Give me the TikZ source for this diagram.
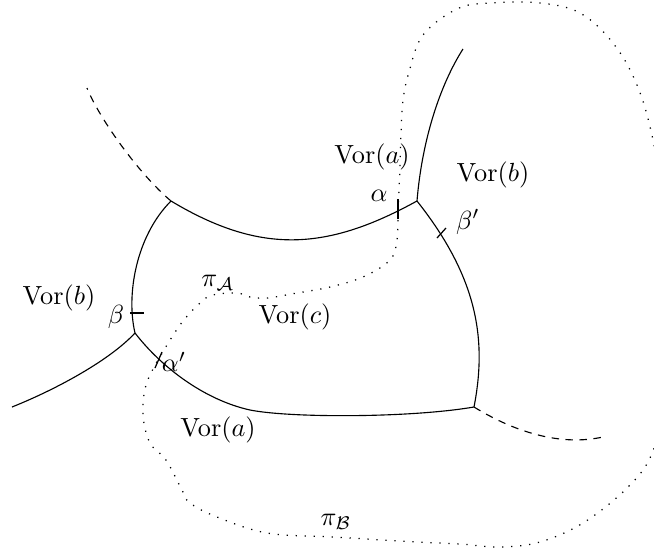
\documentclass[tikz,border=0pt]{standalone}
\usepackage{amsmath}
\newcommand{\lt}[1]{\scalebox{1.05}{#1}}
\begin{document}
\begin{tikzpicture}[x=0.4pt,y=-0.4pt,
  edge/.style={line width=0.45pt},
  ray/.style={line width=0.45pt,dash pattern=on 3pt off 2.6pt},
  path/.style={line width=0.5pt,dash pattern=on 0.5pt off 3.1pt},
  tick/.style={line width=0.5pt},
  lbl/.style={inner sep=0pt}]
\useasboundingbox (0,0) rectangle (654,554);
\clip (0,0) rectangle (654,554);
% junctions and free ends
\coordinate (J1) at (417,201);
\coordinate (J2) at (171,201);
\coordinate (J3) at (135,333);
\coordinate (J4) at (474,407);
\coordinate (T) at (463,49);
\coordinate (L) at (12,407);
\coordinate (D1) at (87,88);
\coordinate (D2) at (607,436);
\coordinate (P) at (250,410);
\coordinate (al) at (398,211);
\coordinate (alp) at (158,360);
% solid edges
\draw[edge] (J1) .. controls (422,140) and (440,85) .. (T);
\draw[edge] (J2) .. controls (261,255) and (327,250.5) .. (J1);
\draw[edge] (J2) .. controls (136,236) and (126,295) .. (J3);
\draw[edge] (J3) .. controls (110,360) and (57,389) .. (L);
\draw[edge] (J3) .. controls (162,368) and (205,400) .. (P)
                 .. controls (290,418) and (410,418) .. (J4);
\draw[edge] (J1) .. controls (478,278) and (487,340) .. (J4);
% dashed rays
\draw[ray] (J2) .. controls (140,175) and (100,120) .. (D1);
\draw[ray] (J4) .. controls (518,434) and (565,447) .. (D2);
% dotted paths
\draw[path] plot[smooth,tension=0.6] coordinates {(al) (397,240) (390,260) (363,277) (330,287) (297,293) (267,298) (250,297) (237,293) (213,295) (200,303) (180,325) (alp)};
\draw[path] plot[smooth,tension=0.6] coordinates {(al) (400,167) (401,133) (403,100) (409,72) (423,35) (457,9) (490,3) (540,3) (580,13) (613,43) (637,85) (653,140) (668,230) (670,330) (663,410) (650,458) (625,490) (583,523) (540,542) (500,547) (460,544) (417,542) (333,537) (267,533) (217,517) (190,503) (182,490) (166,460) (150,443) (143,415) (146,385) (alp)};
% ticks
\coordinate (ta1) at (398,199); \coordinate (ta2) at (398,219);
\coordinate (tb1) at (437,238); \coordinate (tb2) at (446,228);
\coordinate (tc1) at (130,313); \coordinate (tc2) at (144,313);
\coordinate (td1) at (162,352); \coordinate (td2) at (155,368);
\draw[tick] (ta1) -- (ta2);
\draw[tick] (tb1) -- (tb2);
\draw[tick] (tc1) -- (tc2);
\draw[tick] (td1) -- (td2);
% labels
\node[lbl] (va1) at (372,157) {\lt{$\mathrm{Vor}(a)$}};
\node[lbl] (vb1) at (493,175) {\lt{$\mathrm{Vor}(b)$}};
\node[lbl] (vb2) at (59,298) {\lt{$\mathrm{Vor}(b)$}};
\node[lbl] (pa) at (218,283) {\lt{$\pi_{\mathcal{A}}$}};
\node[lbl] (vc) at (295,317) {\lt{$\mathrm{Vor}(c)$}};
\node[lbl] (va2) at (218,430) {\lt{$\mathrm{Vor}(a)$}};
\node[lbl] (pb) at (336,522) {\lt{$\pi_{\mathcal{B}}$}};
\node[lbl] (la) at (379,196) {\lt{$\alpha$}};
\node[lbl] (lbp) at (468,222) {\lt{$\beta'$}};
\node[lbl] (lb) at (116,317) {\lt{$\beta$}};
\node[lbl] (lap) at (174,362) {\lt{$\alpha'$}};
\end{tikzpicture}
\end{document}
